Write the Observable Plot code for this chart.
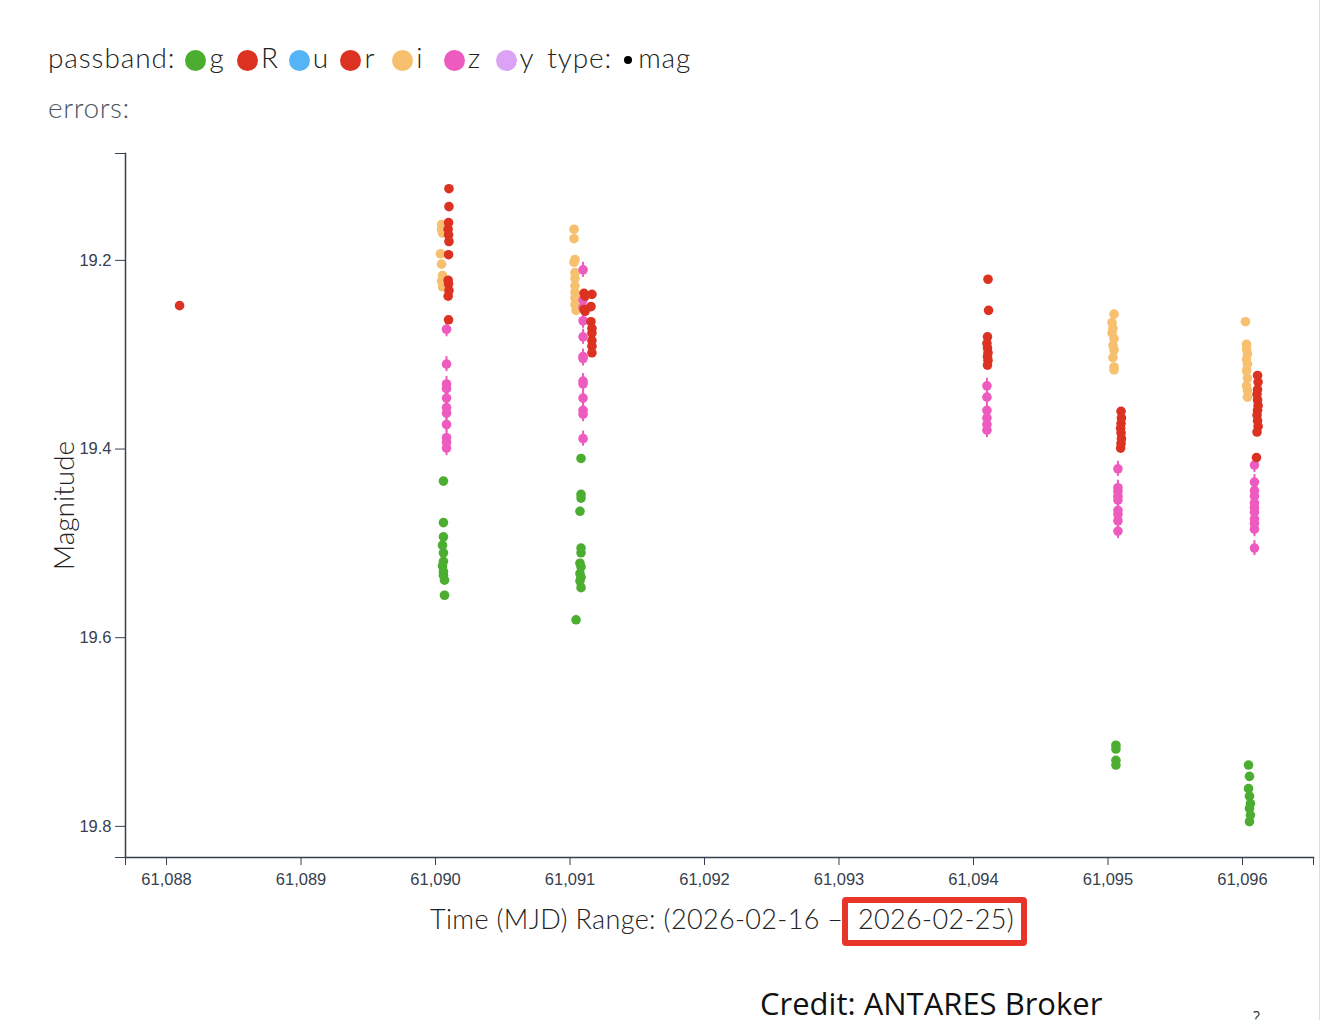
<!DOCTYPE html>
<html>
<head>
<meta charset="utf-8">
<script src="https://cdn.jsdelivr.net/npm/d3@7"></script>
<script src="https://cdn.jsdelivr.net/npm/@observablehq/plot@0.6"></script>
<style>
  html, body { margin: 0; padding: 0; background: #fff; }
  body { width: 1322px; height: 1020px; position: relative; overflow: hidden; font-family: Lato, "Open Sans", sans-serif; }
  #legend { position: absolute; left: 48px; top: 40px; font-size: 28px; font-weight: 300; color: #222; white-space: nowrap; letter-spacing: 0.9px; }
  #legend .item { display: inline-block; width: 51.7px; letter-spacing: 0; }
  #legend .sw { display: inline-block; width: 21px; height: 21px; border-radius: 50%; vertical-align: -3px; margin-right: 3px; }
  #legend .lead { margin-right: 10px; }
  #legend .mdot { display: inline-block; width: 8px; height: 8px; border-radius: 50%; background: #000; vertical-align: 4px; margin: 0 6px 0 12px; }
  #errors { position: absolute; left: 48px; top: 90px; font-size: 28px; font-weight: 300; color: #4a5563; letter-spacing: 0.6px; }
  #chart { position: absolute; left: 0; top: 140px; }
  #xlabel { position: absolute; left: 430px; top: 902px; font-size: 27px; font-weight: 300; color: #222; white-space: nowrap; letter-spacing: 0.35px; }
  #box { position: absolute; left: 842px; top: 897px; width: 173px; height: 37px; border: 6px solid #e8352a; border-radius: 4px; }
  #boxtext { position: absolute; left: 858px; top: 902px; font-size: 27px; font-weight: 300; color: #222; white-space: nowrap; letter-spacing: 0.35px; }
  #credit { position: absolute; left: 760px; top: 982px; font-size: 31px; font-weight: 400; color: #111; font-family: "Open Sans", Lato, sans-serif; white-space: nowrap; }
  #help { position: absolute; left: 1253px; top: 1006px; font-size: 16px; color: #333; font-family: "Open Sans", sans-serif; }
  #edge { position: absolute; left: 1319px; top: 0; width: 1px; height: 1020px; background: #ddd; }
</style>
</head>
<body>
<div id="legend"></div>
<div id="errors">errors:</div>
<div id="chart"></div>
<div id="xlabel">Time (MJD) Range: (2026-02-16 –</div>
<div id="box"></div>
<div id="boxtext">2026-02-25)</div>
<div id="credit">Credit: ANTARES Broker</div>
<div id="help">?</div>
<div id="edge"></div>
<script>
// ---- data ----
const passbands = ["g", "R", "u", "r", "i", "z", "y"];
const bandColors = ["#4cae31", "#dc3222", "#55b4f5", "#dc3222", "#f6c06f", "#ee5bbf", "#dca2f5"];
const bandErrors = [0.003, 0.003, 0.003, 0.003, 0.003, 0.008, 0.003];
const yTicks = [19.2, 19.4, 19.6, 19.8];
const xTicks = [61088, 61089, 61090, 61091, 61092, 61093, 61094, 61095, 61096];
const xDomain = [61087.695, 61096.528];
const yDomain = [19.0867, 19.833];

// [mjd, mag]
const gObs = [
  [61090.059,19.434],[61090.059,19.478],[61090.059,19.493],[61090.052,19.502],[61090.059,19.510],[61090.059,19.519],
  [61090.052,19.524],[61090.059,19.530],[61090.059,19.534],[61090.067,19.539],[61090.067,19.555],
  [61091.082,19.410],[61091.082,19.448],[61091.082,19.452],[61091.074,19.466],[61091.082,19.505],[61091.082,19.510],
  [61091.074,19.521],[61091.082,19.525],[61091.074,19.532],[61091.082,19.536],[61091.074,19.540],[61091.082,19.547],
  [61091.045,19.581],
  [61095.059,19.714],[61095.059,19.718],[61095.059,19.730],[61095.059,19.735],
  [61096.045,19.735],[61096.052,19.747],[61096.045,19.760],[61096.052,19.768],[61096.059,19.776],[61096.052,19.781],
  [61096.059,19.788],[61096.052,19.795]
];
const RObs = [[61088.097,19.248]];
const uObs = [];
const rObs = [
  [61090.100,19.124],[61090.100,19.143],[61090.097,19.160],[61090.094,19.167],[61090.097,19.173],[61090.100,19.180],
  [61090.097,19.194],[61090.094,19.221],[61090.097,19.225],[61090.100,19.232],[61090.094,19.238],[61090.097,19.263],
  [61091.104,19.235],[61091.163,19.236],[61091.112,19.238],[61091.156,19.249],[61091.104,19.252],[61091.112,19.254],
  [61091.156,19.265],[61091.163,19.272],[61091.163,19.277],[61091.163,19.285],[61091.163,19.291],[61091.163,19.298],
  [61094.108,19.220],[61094.112,19.253],[61094.104,19.281],[61094.100,19.288],[61094.104,19.293],[61094.108,19.298],
  [61094.104,19.302],[61094.108,19.306],[61094.104,19.311],
  [61095.097,19.360],[61095.100,19.367],[61095.097,19.373],[61095.094,19.378],[61095.097,19.383],[61095.100,19.389],
  [61095.097,19.394],[61095.094,19.399],
  [61096.112,19.322],[61096.116,19.329],[61096.112,19.337],[61096.108,19.342],[61096.112,19.348],[61096.116,19.354],
  [61096.112,19.359],[61096.108,19.364],[61096.112,19.370],[61096.116,19.376],[61096.108,19.382],[61096.104,19.409]
];
const iObs = [
  [61090.045,19.162],[61090.045,19.167],[61090.052,19.171],[61090.037,19.193],[61090.045,19.204],[61090.052,19.216],
  [61090.045,19.222],[61090.052,19.228],
  [61091.030,19.167],[61091.030,19.177],[61091.037,19.199],[61091.030,19.202],[61091.037,19.213],[61091.037,19.219],
  [61091.037,19.227],[61091.037,19.234],[61091.037,19.240],[61091.037,19.247],[61091.045,19.253],
  [61095.045,19.257],[61095.030,19.266],[61095.037,19.272],[61095.030,19.277],[61095.045,19.283],[61095.037,19.290],
  [61095.045,19.295],[61095.037,19.303],[61095.045,19.313],[61095.045,19.316],
  [61096.022,19.265],[61096.030,19.289],[61096.030,19.294],[61096.037,19.299],[61096.030,19.305],[61096.037,19.310],
  [61096.030,19.317],[61096.037,19.325],[61096.030,19.333],[61096.037,19.338],[61096.037,19.345]
];
const zObs = [
  [61090.082,19.273],[61090.082,19.310],[61090.082,19.331],[61090.082,19.336],[61090.082,19.346],[61090.082,19.356],
  [61090.082,19.362],[61090.082,19.374],[61090.082,19.388],[61090.082,19.393],[61090.082,19.399],
  [61091.097,19.210],[61091.097,19.242],[61091.097,19.250],[61091.097,19.264],[61091.097,19.281],[61091.097,19.302],
  [61091.097,19.304],[61091.097,19.328],[61091.097,19.331],[61091.097,19.346],[61091.097,19.359],[61091.097,19.363],
  [61091.097,19.389],
  [61094.100,19.333],[61094.100,19.345],[61094.100,19.359],[61094.100,19.367],[61094.100,19.374],[61094.100,19.380],
  [61095.074,19.421],[61095.074,19.441],[61095.074,19.445],[61095.074,19.450],[61095.074,19.454],[61095.074,19.465],
  [61095.074,19.469],[61095.074,19.476],[61095.074,19.487],
  [61096.089,19.417],[61096.089,19.435],[61096.089,19.444],[61096.089,19.450],[61096.089,19.457],[61096.089,19.462],
  [61096.089,19.467],[61096.089,19.474],[61096.089,19.479],[61096.089,19.485],[61096.089,19.505]
];
const yObs = [];

// ---- legend ----
const legend = document.getElementById("legend");
let html = '<span class="lead">passband:</span>';
passbands.forEach((b, i) => {
  html += `<span class="item"><span class="sw" style="background:${bandColors[i]}"></span>${b}</span>`;
});
html += '<span>type:</span><span class="mdot"></span><span>mag</span>';
legend.innerHTML = html;

// ---- table (draw order: g, u, y, i, z, R, r) ----
const byBand = {g: gObs, R: RObs, u: uObs, r: rObs, i: iObs, z: zObs, y: yObs};
const drawOrder = ["g", "u", "y", "i", "z", "R", "r"];
const rows = [];
for (const b of drawOrder) {
  const err = bandErrors[passbands.indexOf(b)];
  for (const [mjd, mag] of byBand[b]) rows.push({band: b, mjd, mag, err});
}

const axisColor = "#36404e";
const chart = Plot.plot({
  width: 1322,
  height: 760,
  marginLeft: 125,
  marginRight: 9,
  marginTop: 13,
  marginBottom: 43,
  style: {fontFamily: "Liberation Sans, Arial, sans-serif", color: axisColor, background: "transparent"},
  x: {domain: xDomain},
  y: {domain: yDomain, reverse: true},
  color: {type: "ordinal", domain: passbands, range: bandColors},
  marks: [
    Plot.frame({anchor: "left", stroke: axisColor, strokeWidth: 1.5}),
    Plot.frame({anchor: "bottom", stroke: axisColor, strokeWidth: 1.5}),
    Plot.axisX(xTicks, {tickSize: 8, tickPadding: 8, fontSize: 16.5, tickFormat: d3.format(","), label: null, stroke: axisColor, fill: axisColor}),
    Plot.axisX(xDomain, {tickSize: 8, text: null, label: null, stroke: axisColor}),
    Plot.axisY(yTicks, {tickSize: 10, tickPadding: 4, fontSize: 16.5, tickFormat: d3.format(".1f"), label: null, stroke: axisColor, fill: axisColor}),
    Plot.axisY(yDomain, {tickSize: 10, text: null, label: null, stroke: axisColor}),
    Plot.text(["Magnitude"], {frameAnchor: "left", textAnchor: "middle", rotate: -90, dx: -60, fontSize: 28, fontWeight: 300, fill: "#222", fontFamily: "Lato, sans-serif", letterSpacing: 0.8}),
    Plot.ruleX(rows, {x: "mjd", y1: d => d.mag - d.err, y2: d => d.mag + d.err, stroke: "band", strokeWidth: 2}),
    Plot.dot(rows, {x: "mjd", y: "mag", r: 4.8, fill: "band", stroke: null})
  ]
});
document.getElementById("chart").appendChild(chart);
</script>
</body>
</html>
